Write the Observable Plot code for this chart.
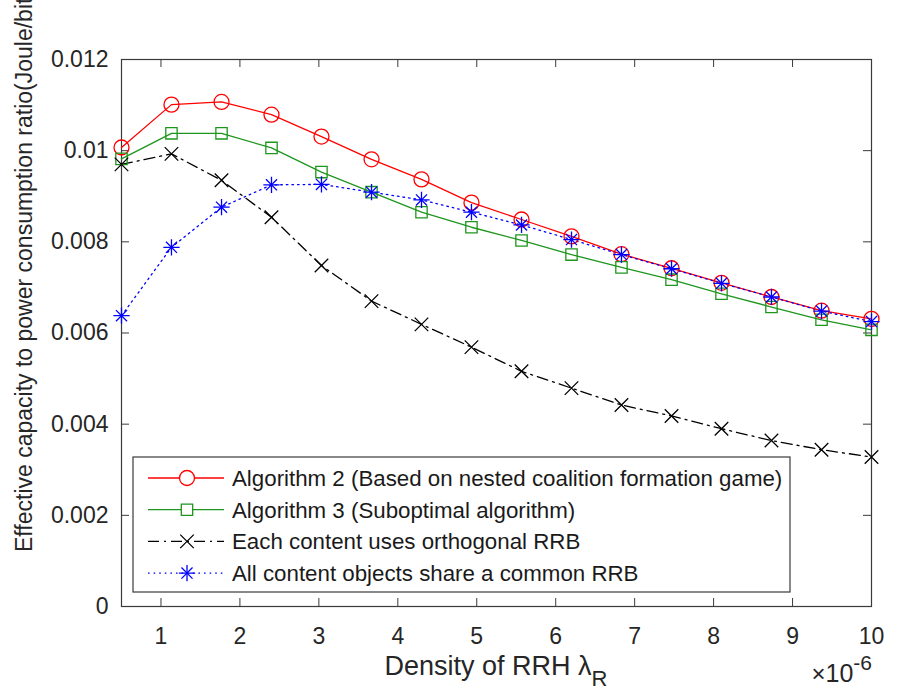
<!DOCTYPE html>
<html><head><meta charset="utf-8">
<script src="https://cdn.jsdelivr.net/npm/d3@7"></script>
<script src="https://cdn.jsdelivr.net/npm/@observablehq/plot@0.6"></script>
<style>
body{margin:0;background:#fff;}
#chart{width:898px;height:692px;}
</style>
</head><body><div id="chart"></div>
<script>
// x: density of RRH (×10^-6)
const density = [0.5, 1.133, 1.767, 2.4, 3.033, 3.667, 4.3, 4.933, 5.567, 6.2, 6.833, 7.467, 8.1, 8.733, 9.367, 10];
const alg2   = [0.01007, 0.01101, 0.01107, 0.01079, 0.01031, 0.00981, 0.00937, 0.00886, 0.00849, 0.00812, 0.00773, 0.00742, 0.00710, 0.00679, 0.00649, 0.00631];
const alg3   = [0.00982, 0.01038, 0.01038, 0.01006, 0.00953, 0.00909, 0.00865, 0.00832, 0.00803, 0.00772, 0.00744, 0.00717, 0.00686, 0.00657, 0.00629, 0.00607];
const orth   = [0.00970, 0.00993, 0.00935, 0.00854, 0.00748, 0.00670, 0.00619, 0.00569, 0.00516, 0.00479, 0.00442, 0.00418, 0.00390, 0.00364, 0.00344, 0.00328];
const shared = [0.00638, 0.00788, 0.00876, 0.00925, 0.00926, 0.00909, 0.00892, 0.00865, 0.00837, 0.00805, 0.00772, 0.00741, 0.00709, 0.00679, 0.00648, 0.00625];

const seriesNames = [
  "Algorithm 2 (Based on nested coalition formation game)",
  "Algorithm 3 (Suboptimal algorithm)",
  "Each content uses orthogonal RRB",
  "All content objects share a common RRB"
];
const xTicks = [1, 2, 3, 4, 5, 6, 7, 8, 9, 10];
const xTickLabels = ["1", "2", "3", "4", "5", "6", "7", "8", "9", "10"];
const yTicks = [0, 0.002, 0.004, 0.006, 0.008, 0.01, 0.012];
const yTickLabels = ["0", "0.002", "0.004", "0.006", "0.008", "0.01", "0.012"];
const xLabel = "Density of RRH λ";
const xLabelSub = "R";
const xExponent = "-6";
const yLabel = "Effective capacity to power consumption ratio(Joule/bit)";

const seriesValues = [alg2, alg3, orth, shared];
const styles = [
  {color: "#ff0000", dash: null, symbols: ["circle"], r: [7.5]},
  {color: "#1e961e", dash: null, symbols: ["square"], r: [6.4]},
  {color: "#000000", dash: "11,5,2,5", symbols: ["times"], r: [6.2]},
  {color: "#0000ff", dash: "1.6,4", symbols: ["plus", "times"], r: [5.3, 5.1]}
];

const rows = [];
seriesValues.forEach((vals, s) => vals.forEach((v, i) => rows.push({s, x: density[i], y: v})));

const FONT = "'Liberation Sans', Arial, Helvetica, sans-serif";
const W = 898, H = 692, ML = 121, MR = 27, MT = 59, MB = 86, TICK = 8;
const innerW = W - ML - MR, innerH = H - MT - MB;
const AX = "#3a3a3a";
const marks = [
  Plot.frame({stroke: AX, strokeWidth: 1.2}),
  // inward ticks on all four sides
  Plot.tickX(xTicks, {x: d => d, insetTop: innerH - TICK, stroke: AX}),
  Plot.tickX(xTicks, {x: d => d, insetBottom: innerH - TICK, stroke: AX}),
  Plot.tickY(yTicks, {y: d => d, insetRight: innerW - TICK, stroke: AX}),
  Plot.tickY(yTicks, {y: d => d, insetLeft: innerW - TICK, stroke: AX}),
  Plot.axisX({ticks: xTicks, anchor: "bottom", tickSize: 0, tickPadding: 21, tickFormat: (d) => xTickLabels[xTicks.indexOf(d)], label: null, fill: "#262626"}),
  Plot.axisY({ticks: yTicks, anchor: "left", tickSize: 0, tickPadding: 13, tickFormat: (d) => yTickLabels[yTicks.indexOf(d)], label: null, fill: "#262626"})
];
styles.forEach((st, s) => {
  const data = rows.filter(d => d.s === s);
  marks.push(Plot.line(data, {x: "x", y: "y", stroke: st.color, strokeWidth: 1.3, strokeDasharray: st.dash}));
});
styles.forEach((st, s) => {
  const data = rows.filter(d => d.s === s);
  st.symbols.forEach((sym, k) => {
    marks.push(Plot.dot(data, {x: "x", y: "y", symbol: () => sym, r: st.r[k], stroke: st.color, strokeWidth: 1.3, fill: "none"}));
  });
});

const plot = Plot.plot({
  width: W, height: H,
  marginLeft: ML, marginRight: MR, marginTop: MT, marginBottom: MB,
  style: {fontFamily: FONT, fontSize: "23px", background: "#ffffff", color: "#262626", overflow: "hidden"},
  x: {type: "linear", domain: [0.5, 10]},
  y: {type: "linear", domain: [0, 0.012]},
  symbol: {type: "identity"},
  marks
});
document.getElementById("chart").appendChild(plot);

const svg = d3.select(plot);
const xs = plot.scale("x");

// y-axis label (cut at top, as in the reference)
svg.append("text")
  .attr("transform", "translate(32,552) rotate(-90)")
  .attr("text-anchor", "start")
  .attr("font-family", FONT).attr("font-size", 23).attr("fill", "#262626")
  .text(yLabel);

// x-axis label with subscript
const xl = svg.append("text")
  .attr("x", (xs.apply(0.5) + xs.apply(10)) / 2).attr("y", 675)
  .attr("text-anchor", "middle")
  .attr("font-family", FONT).attr("font-size", 27).attr("fill", "#262626");
xl.append("tspan").text(xLabel);
xl.append("tspan").attr("dy", 11).attr("font-size", 22).text(xLabelSub);

// exponent
const ex = svg.append("text")
  .attr("x", xs.apply(10) + 1).attr("y", 682)
  .attr("text-anchor", "end")
  .attr("font-family", FONT).attr("font-size", 25).attr("fill", "#262626");
ex.append("tspan").attr("font-size", 24).text("×");
ex.append("tspan").text("10");
ex.append("tspan").attr("dy", -12).attr("font-size", 21).text(xExponent);

// legend
const lg = svg.append("g");
const L = {x: 133, y: 457, w: 657, h: 135, row0: 478, step: 31.7};
lg.append("rect").attr("x", L.x).attr("y", L.y).attr("width", L.w).attr("height", L.h)
  .attr("fill", "#fff").attr("stroke", AX).attr("stroke-width", 1.2);
seriesNames.forEach((name, s) => {
  const st = styles[s];
  const yy = L.row0 + s * L.step;
  lg.append("line").attr("x1", 148).attr("x2", 224).attr("y1", yy).attr("y2", yy)
    .attr("stroke", st.color).attr("stroke-width", 1.3).attr("stroke-dasharray", st.dash);
  st.symbols.forEach((sym, k) => {
    const symType = {circle: d3.symbolCircle, square: d3.symbolSquare, times: d3.symbolTimes, plus: d3.symbolPlus}[sym];
    lg.append("path").attr("transform", `translate(187,${yy})`)
      .attr("d", d3.symbol(symType, Math.PI * st.r[k] * st.r[k])())
      .attr("fill", "#fff").attr("fill-opacity", sym === "circle" || sym === "square" ? 1 : 0)
      .attr("stroke", st.color).attr("stroke-width", 1.3);
  });
  lg.append("text").attr("x", 232).attr("y", yy).attr("dy", "0.36em")
    .attr("text-anchor", "start")
    .attr("font-family", FONT).attr("font-size", 22.3).attr("fill", "#1a1a1a").text(name);
});
</script>
</body></html>
